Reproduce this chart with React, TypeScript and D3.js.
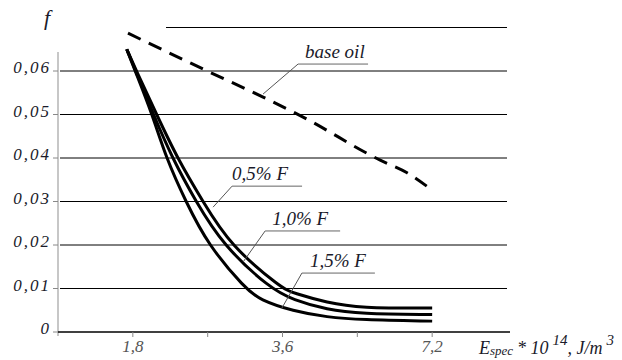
import React, { useEffect, useRef } from "react";
import * as d3 from "d3";

// E_spec values (x 10^14 J/m^3) and friction coefficient f
const baseOilX = [1.76, 2.54, 3.29, 3.96, 5.66, 6.41, 7.2];
const baseOilF = [0.0687, 0.06, 0.054, 0.0494, 0.0395, 0.0366, 0.0326];

const f05X = [1.75, 1.83, 2.01, 2.21, 2.49, 2.82, 3.59, 3.78, 4.43, 5.16, 7.2];
const f05F = [0.065, 0.06, 0.05, 0.04, 0.03, 0.02, 0.01, 0.009, 0.0067, 0.0055, 0.0055];

const f10X = [1.75, 1.825, 1.98, 2.16, 2.41, 2.73, 3.4, 3.78, 4.43, 5.16, 7.2];
const f10F = [0.065, 0.06, 0.05, 0.04, 0.03, 0.02, 0.01, 0.0074, 0.0051, 0.0042, 0.004];

const f15X = [1.75, 1.82, 1.97, 2.1, 2.3, 2.55, 3.03, 3.24, 3.78, 4.43, 5.16, 7.2];
const f15F = [0.065, 0.06, 0.05, 0.04, 0.03, 0.02, 0.01, 0.0074, 0.0048, 0.0034, 0.0028, 0.0025];

const yTicks = [0, 0.01, 0.02, 0.03, 0.04, 0.05, 0.06];
const yTickLabels = ["0", "0,01", "0,02", "0,03", "0,04", "0,05", "0,06"];
const xTicks = [1.8, 2.546, 3.6, 5.091, 7.2];
const xTickLabels = ["1,8", "", "3,6", "", "7,2"];

// curve labels and the points on the curves their leader lines touch
const noteLabels = ["base oil", "0,5% F", "1,0% F", "1,5% F"];
const noteX = [3.29, 2.61, 3.0, 3.59];
const noteF = [0.0547, 0.0287, 0.0161, 0.0055];

const App = () => {
  const svgRef = useRef<SVGSVGElement>(null);

  useEffect(() => {
    const svg = d3.select(svgRef.current);
    svg.selectAll("*").remove();

    const left = 58;
    const right = 507;
    const bottom = 332;

    const x = d3
      .scaleLog()
      .base(2)
      .domain([1.8 / Math.SQRT2, 7.2 * Math.SQRT2])
      .range([left, right]);
    const y = d3.scaleLinear().domain([0, 0.07]).range([bottom, 27.5]);

    const serif = "'Times New Roman', 'Liberation Serif', serif";
    const ink = "#1a1a2a";

    // grid lines
    svg
      .append("g")
      .selectAll("line")
      .data(yTicks.slice(1))
      .join("line")
      .attr("x1", left + 2)
      .attr("x2", right)
      .attr("y1", (d) => y(d))
      .attr("y2", (d) => y(d))
      .attr("stroke", "#000")
      .attr("stroke-width", 1);

    // top line at 0.07 (starts further right)
    svg
      .append("line")
      .attr("x1", 166)
      .attr("x2", right)
      .attr("y1", y(0.07))
      .attr("y2", y(0.07))
      .attr("stroke", "#000");

    // y axis
    svg
      .append("line")
      .attr("x1", left)
      .attr("x2", left)
      .attr("y1", 52)
      .attr("y2", bottom + 4)
      .attr("stroke", "#b5b5b5")
      .attr("stroke-width", 1.5);

    svg
      .append("g")
      .selectAll("line")
      .data(yTicks)
      .join("line")
      .attr("x1", left - 5)
      .attr("x2", left)
      .attr("y1", (d) => y(d))
      .attr("y2", (d) => y(d))
      .attr("stroke", "#888");

    svg
      .append("g")
      .selectAll("text")
      .data(yTicks)
      .join("text")
      .attr("x", 51)
      .attr("y", (d) => y(d) + 2)
      .attr("text-anchor", "end")
      .style("font-family", serif)
      .style("font-style", "italic")
      .style("font-size", "17px")
      .style("letter-spacing", "2px")
      .attr("fill", ink)
      .text((d, i) => yTickLabels[i]);

    // x axis
    svg
      .append("line")
      .attr("x1", left)
      .attr("x2", 510)
      .attr("y1", bottom)
      .attr("y2", bottom)
      .attr("stroke", "#000")
      .attr("stroke-width", 1.5);

    svg
      .append("g")
      .selectAll("line")
      .data(xTicks)
      .join("line")
      .attr("x1", (d) => x(d))
      .attr("x2", (d) => x(d))
      .attr("y1", bottom)
      .attr("y2", bottom + 5)
      .attr("stroke", "#888");

    svg
      .append("g")
      .selectAll("text")
      .data(xTicks)
      .join("text")
      .attr("x", (d) => x(d))
      .attr("y", 352)
      .attr("text-anchor", "middle")
      .style("font-family", serif)
      .style("font-style", "italic")
      .style("font-size", "17px")
      .attr("fill", "#555")
      .text((d, i) => xTickLabels[i]);

    // curves
    const line = d3
      .line<[number, number]>()
      .x((d) => x(d[0]))
      .y((d) => y(d[1]))
      .curve(d3.curveBasis);

    const solid = [
      [f05X, f05F],
      [f10X, f10F],
      [f15X, f15F],
    ];
    solid.forEach(([xs, fs]) => {
      svg
        .append("path")
        .datum(xs.map((v, i) => [v, fs[i]] as [number, number]))
        .attr("fill", "none")
        .attr("stroke", "#000")
        .attr("stroke-width", 3)
        .attr("d", line);
    });

    svg
      .append("path")
      .datum(baseOilX.map((v, i) => [v, baseOilF[i]] as [number, number]))
      .attr("fill", "none")
      .attr("stroke", "#000")
      .attr("stroke-width", 3)
      .attr("stroke-dasharray", "14,9")
      .attr("d", line.curve(d3.curveMonotoneX));

    // annotations: leader line, underline, label
    const offsets = [
      { dx: 35, dy: -30, w: 70, tx: 7 },
      { dx: 19, dy: -21, w: 70, tx: 0 },
      { dx: 22, dy: -31, w: 75, tx: 7 },
      { dx: 20, dy: -35, w: 73, tx: 8 },
    ];
    noteLabels.forEach((label, i) => {
      const ax = x(noteX[i]);
      const ay = y(noteF[i]);
      const o = offsets[i];
      const ux = ax + o.dx;
      const uy = ay + o.dy;
      svg
        .append("line")
        .attr("x1", ax)
        .attr("y1", ay)
        .attr("x2", ux)
        .attr("y2", uy)
        .attr("stroke", "#555")
        .attr("stroke-width", 1);
      svg
        .append("line")
        .attr("x1", ux)
        .attr("y1", uy)
        .attr("x2", ux + o.w)
        .attr("y2", uy)
        .attr("stroke", "#666")
        .attr("stroke-width", 1);
      svg
        .append("text")
        .attr("x", ux + o.tx)
        .attr("y", uy - 6)
        .style("font-family", serif)
        .style("font-style", "italic")
        .style("font-size", "19px")
        .attr("fill", ink)
        .text(label);
    });

    // axis titles
    svg
      .append("text")
      .attr("x", 44)
      .attr("y", 25)
      .style("font-family", serif)
      .style("font-style", "italic")
      .style("font-size", "22px")
      .attr("fill", ink)
      .text("f");

    const title = svg
      .append("text")
      .attr("x", 479)
      .attr("y", 354)
      .style("font-family", serif)
      .style("font-style", "italic")
      .style("font-size", "18px")
      .attr("fill", ink);
    title.append("tspan").text("E");
    title.append("tspan").style("font-size", "13px").attr("dy", 1).text("spec");
    title.append("tspan").attr("dy", -1).attr("dx", 4).text("* 10");
    title.append("tspan").attr("dy", -9).attr("dx", 4).style("font-size", "15px").text("14");
    title.append("tspan").attr("dy", 9).text(", J/m");
    title.append("tspan").attr("dy", -9).attr("dx", 4).style("font-size", "15px").text("3");
  }, []);

  return (
    <svg
      ref={svgRef}
      width={622}
      height={360}
      style={{ position: "absolute", left: 0, top: 0, background: "#fff" }}
    />
  );
};

export default App;
